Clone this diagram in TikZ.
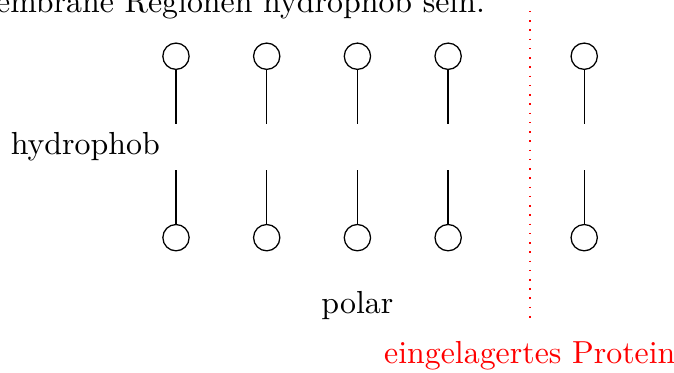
\documentclass[tikz,border=0pt]{standalone}
\usepackage{tikz}
\tikzset{head/.style={draw, circle, minimum size=0.29cm, inner sep=0pt}}
\begin{document}
\begin{tikzpicture}
\useasboundingbox (-1.94,-2.49) rectangle (5.49,1.62);
\node[anchor=base east] (satz) at (3.53,1.48) {membrane Regionen hydrophob sein.};
% Lipide
\foreach \x/\n in {0/a,1/b,2/c,3/d,4.5/e}{
	\node[head] (top\n) at (\x,1) {};
	\coordinate (topend\n) at (\x,0.25);
	\draw (top\n) -- (topend\n);
	\node[head] (bot\n) at (\x,-1) {};
	\coordinate (botend\n) at (\x,-0.25);
	\draw (bot\n) -- (botend\n);
}
\node (hydro) at (-1,0) {hydrophob};
\node (polar) at (2,-1.75) {polar};
% Protein
\coordinate (septop) at (3.9,1.5);
\coordinate (sepbot) at (3.9,-1.9);
\draw [red, line width=0.5pt, dash pattern=on 0.5pt off 2.4pt] (septop) -- (sepbot);
\node[red] (protein) at (3.9,-2.3) {eingelagertes Protein};
\end{tikzpicture}
\end{document}
